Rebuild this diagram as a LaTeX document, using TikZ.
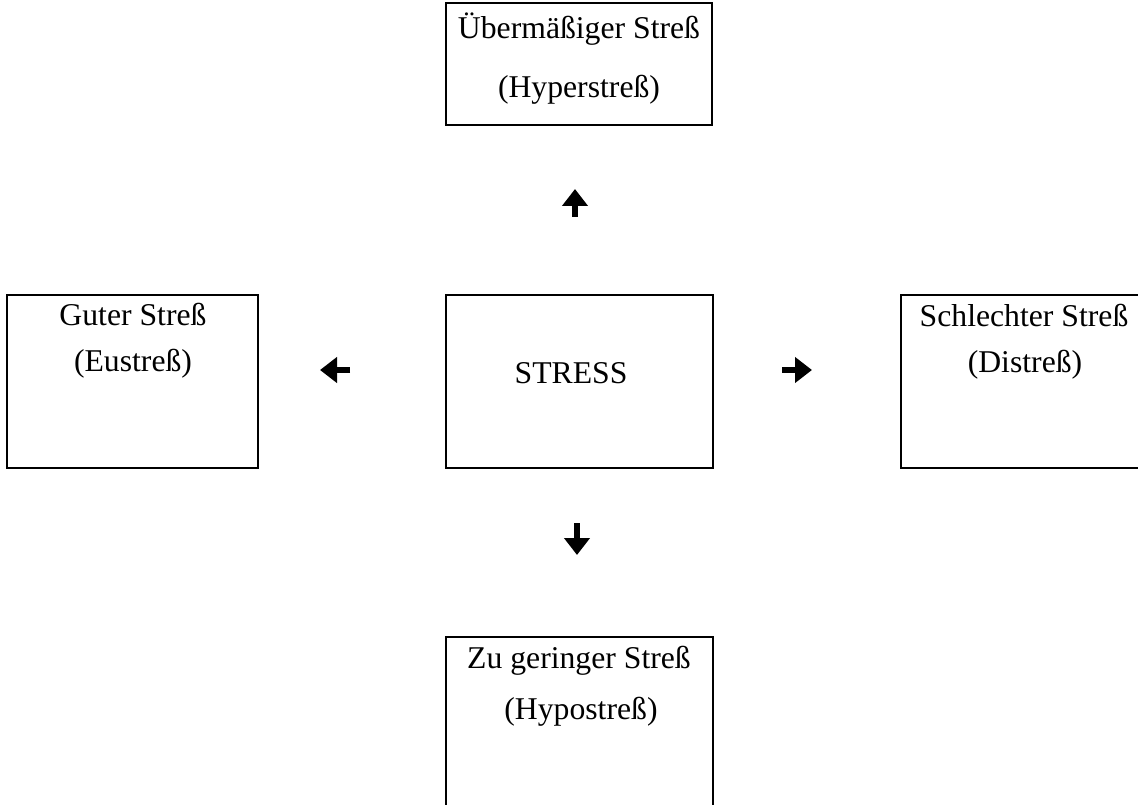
\documentclass[tikz,border=0pt]{standalone}
\usepackage{fontspec}
\setmainfont{Liberation Serif}
\usetikzlibrary{arrows.meta, positioning}

\tikzset{
    stressbox/.style={draw, line width=2pt, inner sep=0pt},
    boxtext/.style={anchor=base, inner sep=0pt, font=\fontsize{31.7}{38}\selectfont},
    stressarrow/.style={line width=6pt, -{Triangle[length=17pt, width=25pt]}}
}

\begin{document}
\begin{tikzpicture}[x=1pt, y=-1pt]
        \useasboundingbox (0,0) rectangle (1138,805);
        \clip (0,0) rectangle (1138,805);

        % boxes
        \node [stressbox, minimum width=266pt, minimum height=122pt] (hyper) at (579,64) {};
        \node [stressbox, minimum width=251pt, minimum height=173pt] (eu) at (132.5,381.5) {};
        \node [stressbox, minimum width=267pt, minimum height=173pt] (stress) at (579.5,381.5) {};
        \node [stressbox, minimum width=249pt, minimum height=173pt] (dis) at (1025.5,381.5) {};
        \node [stressbox, minimum width=267pt, minimum height=183pt] (hypo) at (579.5,728.5) {};

        % texts
        \node [boxtext] (hyper-a) at (579,39) {Übermäßiger Streß};
        \node [boxtext] (hyper-b) at (579,98) {(Hyperstreß)};
        \node [boxtext] (eu-a) at (133,325) {Guter Streß};
        \node [boxtext] (eu-b) at (133,371) {(Eustreß)};
        \node [boxtext] (stress-a) at (571,383) {STRESS};
        \node [boxtext] (dis-a) at (1024,326) {Schlechter Streß};
        \node [boxtext] (dis-b) at (1025,372) {(Distreß)};
        \node [boxtext] (hypo-a) at (579,668) {Zu geringer Streß};
        \node [boxtext] (hypo-b) at (581,719) {(Hypostreß)};

        % arrows
        \coordinate (up-s) at (575,217);
        \coordinate (up-e) at (575,189);
        \coordinate (left-s) at (350,370);
        \coordinate (left-e) at (320,370);
        \coordinate (right-s) at (782,370);
        \coordinate (right-e) at (812,370);
        \coordinate (down-s) at (577,523);
        \coordinate (down-e) at (577,555);
        \draw [stressarrow] (up-s) -- (up-e);
        \draw [stressarrow] (left-s) -- (left-e);
        \draw [stressarrow] (right-s) -- (right-e);
        \draw [stressarrow] (down-s) -- (down-e);
\end{tikzpicture}
\end{document}
